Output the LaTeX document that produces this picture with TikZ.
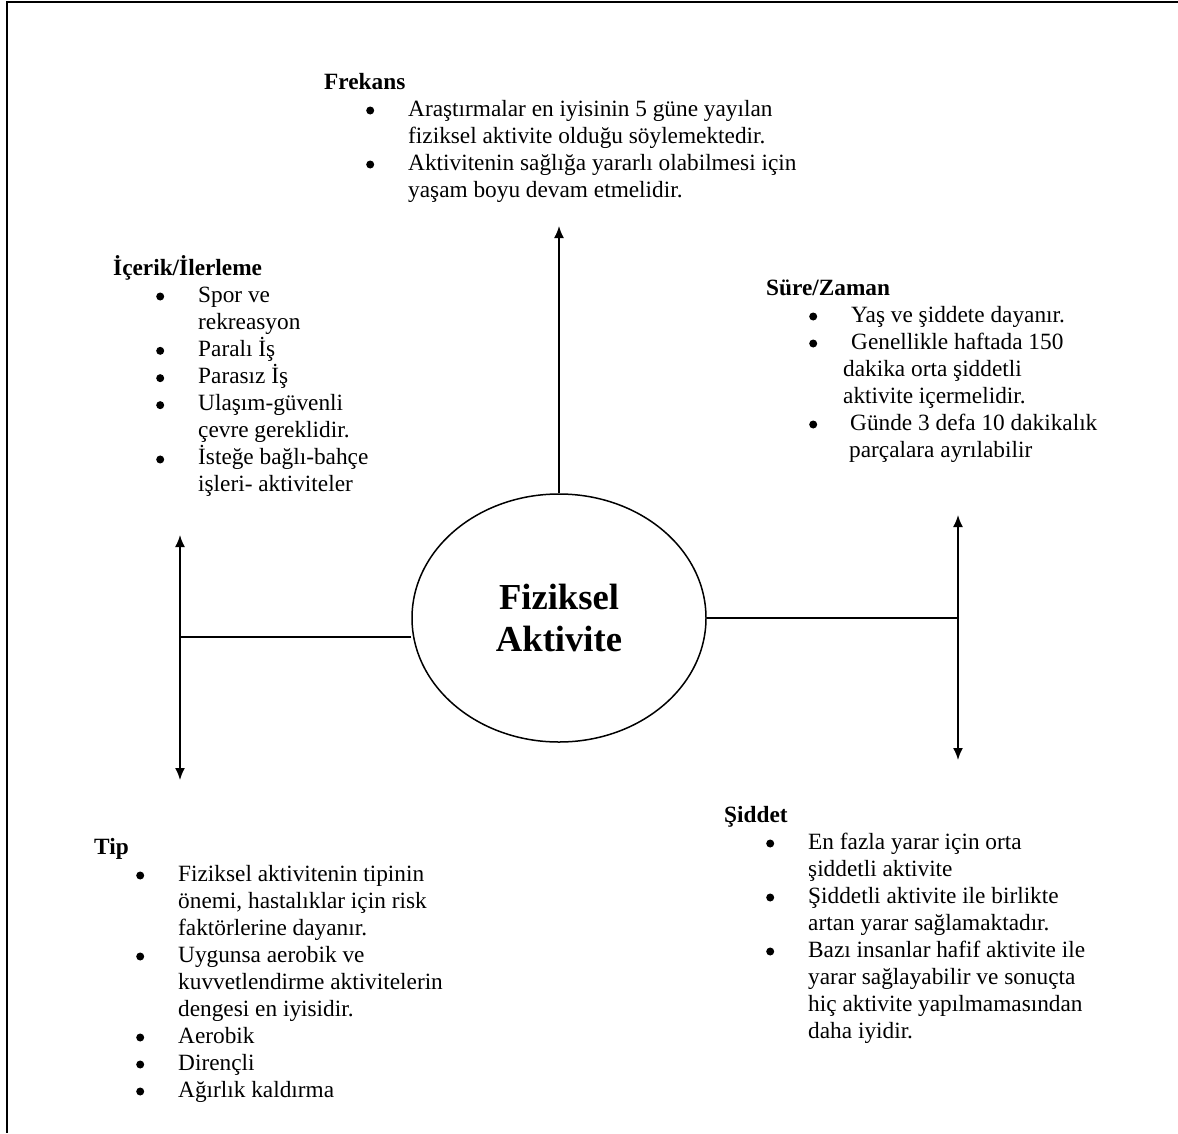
\documentclass[tikz,border=0pt]{standalone}
\usepackage{fontspec}
\setmainfont{Liberation Serif}
\usetikzlibrary{arrows.meta,shapes.geometric}
\newcommand\bul{\tikz[x=1pt,y=1pt,baseline=0pt]\fill (4,5.5) circle (4);}
\begin{document}
\begin{tikzpicture}[x=1pt,y=-1pt,
  txt/.style={anchor=base west, inner sep=0pt, font=\fontsize{23.3}{27}\selectfont},
  conn/.style={line width=1.7pt},
  arr/.style={line width=1.7pt, -{Latex[length=12pt,width=10pt]}},
  darr/.style={line width=1.7pt, {Latex[length=12pt,width=10pt]}-{Latex[length=12pt,width=10pt]}},
  hub/.style={draw, ellipse, line width=1.5pt, minimum width=294pt, minimum height=248pt, inner sep=0pt, align=center, font=\fontsize{36.6}{42}\selectfont\bfseries},
]
\useasboundingbox (0,0) rectangle (1178,1133);
\fill[white] (0,0) rectangle (1178,1133);
\draw[line width=2.8pt] (1178,2) -- (7,2) -- (7,1133);

% Frekans
\node[txt] (frek) at (324,89) {\begin{tabular}[t]{@{}p{42pt}@{}p{42pt}@{}l@{}}
\multicolumn{3}{@{}l@{}}{\textbf{Frekans}}\\
& \bul & Araştırmalar en iyisinin 5 güne yayılan\\
& & fiziksel aktivite olduğu söylemektedir.\\
& \bul & Aktivitenin sağlığa yararlı olabilmesi için\\
& & yaşam boyu devam etmelidir.
\end{tabular}};

% Icerik
\node[txt] (icerik) at (113,275) {\begin{tabular}[t]{@{}p{43pt}@{}p{42pt}@{}l@{}}
\multicolumn{3}{@{}l@{}}{\textbf{İçerik/İlerleme}}\\
& \bul & Spor ve\\
& & rekreasyon\\
& \bul & Paralı İş\\
& \bul & Parasız İş\\
& \bul & Ulaşım-güvenli\\
& & çevre gereklidir.\\
& \bul & İsteğe bağlı-bahçe\\
& & işleri- aktiviteler
\end{tabular}};

% Sure
\node[txt] (sure) at (766,295) {\begin{tabular}[t]{@{}p{43pt}@{}p{34pt}@{}l@{}}
\multicolumn{3}{@{}l@{}}{\textbf{Süre/Zaman}}\\
& \bul & \hspace*{8pt}Yaş ve şiddete dayanır.\\
& \bul & \hspace*{8pt}Genellikle haftada 150\\
& & dakika orta şiddetli\\
& & aktivite içermelidir.\\
& \bul & \hspace*{7pt}Günde 3 defa 10 dakikalık\\
& & \hspace*{6pt}parçalara ayrılabilir
\end{tabular}};

% Tip
\node[txt] (tip) at (94,854) {\begin{tabular}[t]{@{}p{42pt}@{}p{42pt}@{}l@{}}
\multicolumn{3}{@{}l@{}}{\textbf{Tip}}\\
& \bul & Fiziksel aktivitenin tipinin\\
& & önemi, hastalıklar için risk\\
& & faktörlerine dayanır.\\
& \bul & Uygunsa aerobik ve\\
& & kuvvetlendirme aktivitelerin\\
& & dengesi en iyisidir.\\
& \bul & Aerobik\\
& \bul & Dirençli\\
& \bul & Ağırlık kaldırma
\end{tabular}};

% Siddet
\node[txt] (siddet) at (724,822) {\begin{tabular}[t]{@{}p{42pt}@{}p{42pt}@{}l@{}}
\multicolumn{3}{@{}l@{}}{\textbf{Şiddet}}\\
& \bul & En fazla yarar için orta\\
& & şiddetli aktivite\\
& \bul & Şiddetli aktivite ile birlikte\\
& & artan yarar sağlamaktadır.\\
& \bul & Bazı insanlar hafif aktivite ile\\
& & yarar sağlayabilir ve sonuçta\\
& & hiç aktivite yapılmamasından\\
& & daha iyidir.
\end{tabular}};

% Center
\node[hub] (fa) at (559,618) {Fiziksel\\Aktivite};

% Connectors
\coordinate (topend) at (559,226);
\draw[arr] (fa.north) -- (topend);

\coordinate (lj) at (180,637);
\coordinate (lt) at (180,535);
\coordinate (lb) at (180,780);
\draw[conn] (fa.west |- lj) -- (lj);
\draw[darr] (lt) -- (lb);

\coordinate (rj) at (958,618);
\coordinate (rt) at (958,515);
\coordinate (rb) at (958,760);
\draw[conn] (fa.east) -- (rj);
\draw[darr] (rt) -- (rb);
\end{tikzpicture}
\end{document}
